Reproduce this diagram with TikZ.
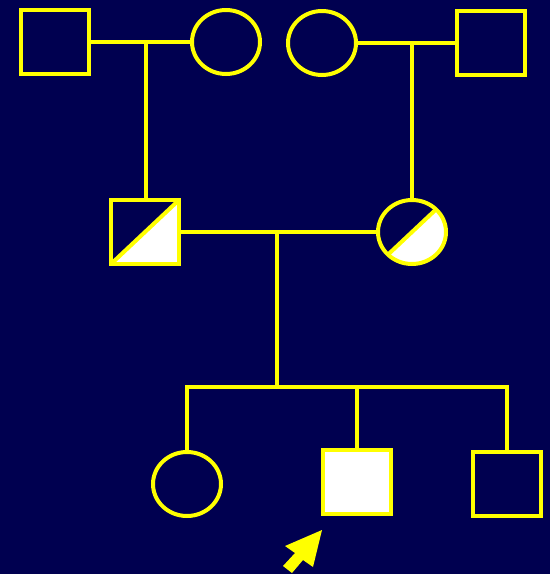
\documentclass[tikz,border=0pt]{standalone}
\usetikzlibrary{shapes.geometric}
\definecolor{pedbg}{RGB}{0,0,80}
\definecolor{pedline}{RGB}{255,255,0}
\tikzset{
  male/.style={rectangle, draw=pedline, line width=4pt, minimum width=68pt, minimum height=64pt, inner sep=0pt},
  female/.style={ellipse, draw=pedline, line width=4pt, minimum width=68pt, minimum height=64pt, inner sep=0pt},
  carrier/.style={path picture={
      \fill[white] (path picture bounding box.south west) -- (path picture bounding box.north east) -- (path picture bounding box.south east) -- cycle;
      \draw[pedline, line width=4pt] (path picture bounding box.south west) -- (path picture bounding box.north east);}},
  affected/.style={fill=white, line width=4.5pt},
  pedlink/.style={draw=pedline, line width=4pt}
}
\begin{document}
\begin{tikzpicture}[x=1pt, y=-1pt]
  % background
  \fill[pedbg] (0,0) rectangle (550,574);
  \useasboundingbox (0,0) rectangle (550,574);

  % Grandparents, father's side
  \node[male] (pgf) at (55,42) {};
  \node[female] (pgm) at (226,42) {};

  % Grandparents, mother's side
  \node[female] (mgm) at (322,43) {};
  \node[male] (mgf) at (491,43) {};

  % Parents (carriers)
  \node[male, carrier] (father) at (145,232) {};
  \node[female, carrier] (mother) at (412,232) {};

  % Children
  \node[female] (sister) at (187,484) {};
  \node[male, affected] (proband) at (357,482) {};
  \node[male] (brother) at (507,484) {};

  % Marriage and descent lines
  \coordinate (pm) at (146,42);
  \coordinate (mm) at (412,43);
  \coordinate (pp) at (277,232);
  \coordinate (sib) at (277,387);
  \draw[pedlink] (pgf) -- (pgm);
  \draw[pedlink] (pm) -- (pm |- father.north);
  \draw[pedlink] (mgm) -- (mgf);
  \draw[pedlink] (mm) -- (mother.north);
  \draw[pedlink] (father) -- (mother);
  \draw[pedlink] (pp) -- (sib);

  % Sibship line
  \draw[pedlink] (sister.north) |- (sib) -| (brother.north);
  \draw[pedlink] (proband.north) -- (proband.north |- sib);

  % Proband arrow
  \fill[pedline] (322,530) -- (313,567) -- (303,560) -- (292,573) -- (283,566) -- (295,553) -- (285,546) -- cycle;
\end{tikzpicture}
\end{document}
